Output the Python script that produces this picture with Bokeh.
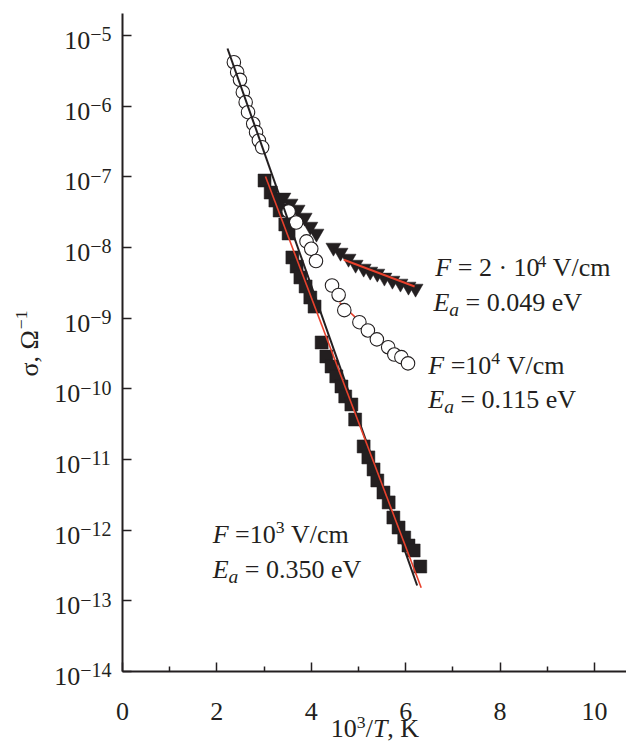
import math
from bokeh.plotting import figure
from bokeh.models import Range1d, FixedTicker, Label, CustomJSTickFormatter
from bokeh.embed import file_html
from bokeh.resources import INLINE

FONT = "Liberation Serif"
INK = "#231f20"
RED = "#e8412c"

# ---- data ----
# F = 10^4 V/cm (open circles)
circ_x = [2.36, 2.43, 2.49, 2.55, 2.61, 2.66, 2.77, 2.83, 2.89, 2.96,
          3.52, 3.68, 3.90, 4.00, 4.10, 4.44, 4.58, 4.70, 5.02, 5.20,
          5.39, 5.63, 5.76, 5.91, 6.05]
circ_y = [4.19e-6, 3.03e-6, 2.36e-6, 1.58e-6, 1.14e-6, 8.22e-7, 5.64e-7, 4.29e-7, 3.27e-7, 2.62e-7,
          3.24e-8, 2.26e-8, 1.22e-8, 9.6e-9, 6.44e-9, 2.90e-9, 2.13e-9, 1.30e-9, 8.77e-10, 6.70e-10,
          5.02e-10, 3.88e-10, 3.06e-10, 2.81e-10, 2.29e-10]
# F = 10^3 V/cm (filled squares)
sq_x = [3.01, 3.14, 3.24, 3.33, 3.45, 3.52, 3.60, 3.69, 3.77, 3.88, 3.98, 4.07,
        4.22, 4.32, 4.43, 4.53, 4.64, 4.72, 4.85, 4.93, 5.11, 5.21, 5.32, 5.40,
        5.53, 5.64, 5.74, 5.85, 5.97, 6.06, 6.17, 6.31]
sq_y = [8.87e-8, 6.0e-8, 4.62e-8, 3.34e-8, 2.12e-8, 1.58e-8, 7.23e-9, 5.38e-9, 3.77e-9, 2.81e-9, 1.96e-9, 1.46e-9,
        4.53e-10, 2.87e-10, 2.07e-10, 1.50e-10, 1.08e-10, 7.8e-11, 6.01e-11, 3.68e-11, 1.53e-11, 1.07e-11, 7.23e-12, 5.05e-12,
        3.41e-12, 2.47e-12, 1.51e-12, 1.09e-12, 7.87e-13, 6.07e-13, 5.16e-13, 3.06e-13]
# F = 2*10^4 V/cm (filled inverted triangles)
tri_x = [3.41, 3.56, 3.71, 3.86, 3.98, 4.11, 4.47, 4.62, 4.79, 4.94, 5.11, 5.25,
         5.40, 5.55, 5.72, 5.89, 6.06, 6.21]
tri_y = [5.11e-8, 4.20e-8, 3.45e-8, 2.66e-8, 1.98e-8, 1.58e-8, 1.00e-8, 8.49e-9, 6.98e-9, 5.74e-9, 5.05e-9, 4.58e-9,
         4.29e-9, 3.77e-9, 3.41e-9, 3.10e-9, 2.81e-9, 2.63e-9]

# fitted lines (end points)
black_x = [2.225, 6.244]
black_y = [6.55e-6, 1.65e-13]
red1_x = [3.03, 6.33]          # Ea = 0.350 eV
red1_y = [1.01e-7, 1.53e-13]
red2_x = [4.69, 6.19]          # Ea = 0.049 eV
red2_y = [6.70e-9, 2.81e-9]
red3_x = [4.60, 6.00]          # Ea = 0.115 eV
red3_y = [1.66e-9, 2.24e-10]

x_major = [0, 2, 4, 6, 8, 10]
x_minor = [1, 3, 5, 7, 9]
y_major = [1e-14, 1e-13, 1e-12, 1e-11, 1e-10, 1e-9, 1e-8, 1e-7, 1e-6, 1e-5]
x_axis_end = 10.68
y_axis_end = 2.05e-5

# the frame spans the whole canvas; the axes are pinned at x = 0 and y = 1e-14
p = figure(width=626, height=744, y_axis_type="log", title=None,
           x_range=Range1d(-2.585, x_axis_end), y_range=Range1d(9.27e-16, 3.13e-5),
           output_backend="svg", toolbar_location=None, min_border=0)
p.grid.visible = False
p.outline_line_color = None
p.background_fill_color = "white"
p.border_fill_color = "white"

xa = p.xaxis[0]
ya = p.yaxis[0]
xa.fixed_location = y_major[0]
ya.fixed_location = x_major[0]
xa.bounds = (x_major[0], x_axis_end)
ya.bounds = (y_major[0], y_axis_end)
xa.ticker = FixedTicker(ticks=x_major, minor_ticks=x_minor)
ya.ticker = FixedTicker(ticks=y_major, minor_ticks=[])
for ax in (xa, ya):
    ax.axis_line_width = 2
    ax.axis_line_color = INK
    ax.major_tick_line_color = INK
    ax.major_tick_line_width = 1.5
    ax.major_tick_in = 9
    ax.major_tick_out = 0
    ax.minor_tick_line_color = INK
    ax.minor_tick_line_width = 1.5
    ax.minor_tick_in = 5
    ax.minor_tick_out = 0
    ax.major_label_text_font = FONT
    ax.major_label_text_font_size = "26px"
    ax.major_label_text_color = INK
ya.minor_tick_line_color = None
xa.major_label_standoff = 31
ya.formatter = CustomJSTickFormatter(code="return ''")

# data marks
p.scatter(sq_x, sq_y, marker="square", size=13, fill_color=INK, line_color=INK, line_width=0.5)
p.scatter(tri_x, tri_y, marker="inverted_triangle", size=15, fill_color=INK, line_color=INK, line_width=0.5)
p.line(red3_x, red3_y, line_color=RED, line_width=1.5)
p.scatter(circ_x, circ_y, marker="circle", size=13.5, fill_color="white", line_color=INK, line_width=1.1)
p.line(black_x, black_y, line_color=INK, line_width=2)
p.line(red1_x, red1_y, line_color=RED, line_width=1.6)
p.line(red2_x, red2_y, line_color=RED, line_width=2)

# ---- rich text helper (Times metrics) ----
REG = {' ': 0.25, '=': 0.564, '\u00b7': 0.25, '.': 0.25, '/': 0.278, 'V': 0.722, 'c': 0.444,
       'm': 0.778, 'e': 0.444, 'K': 0.722, ',': 0.25, '\u03c3': 0.55, '\u03a9': 0.768, '\u2212': 0.564}
ITA = {'F': 0.611, 'E': 0.611, 'a': 0.5, 'T': 0.556}
BASE_FIX = 0.31   # compensates the renderer's drop of alphabetic-baseline labels (in em)


def text_width(t, italic):
    table = ITA if italic else REG
    return sum(0.5 if ch.isdigit() else table.get(ch, 0.5) for ch in t)


def rich(x, y, pieces, fs=26, angle=0.0, align="left", dx=0.0, dy=0.0):
    widths = [text_width(t, it) * fs * sc for t, it, sc, _ in pieces]
    total = sum(widths)
    adv = {"left": 0.0, "right": -total, "center": -total / 2}[align]
    for (t, italic, scale, rise), w in zip(pieces, widths):
        size = fs * scale
        lead = (len(t) - len(t.lstrip(" "))) * 0.25 * size
        s = t.strip(" ")
        a = adv + lead
        r = rise + BASE_FIX * size
        if angle == 0:
            xo, yo = dx + a, dy + r
        else:
            xo, yo = dx - r, dy + a
        p.add_layout(Label(x=x, y=y, x_offset=xo, y_offset=yo, text=s, angle=angle,
                           text_font=FONT, text_font_size=f"{size:.1f}px",
                           text_font_style="italic" if italic else "normal",
                           text_color=INK, text_align="left", text_baseline="alphabetic"))
        adv += w


SUP = 0.68
SUB = 0.75
rich(6.63, 4.02e-9, [("F", True, 1, 0), (" = 2 \u00b7 10", False, 1, 0), ("4", False, SUP, 9), (" V/cm", False, 1, 0)])
rich(6.59, 1.29e-9, [("E", True, 1, 0), ("a", True, SUB, -5), (" = 0.049 eV", False, 1, 0)])
rich(6.48, 1.65e-10, [("F", True, 1, 0), (" =10", False, 1, 0), ("4", False, SUP, 9), (" V/cm", False, 1, 0)])
rich(6.48, 5.44e-11, [("E", True, 1, 0), ("a", True, SUB, -5), (" = 0.115 eV", False, 1, 0)])
rich(1.91, 6.70e-13, [("F", True, 1, 0), (" =10", False, 1, 0), ("3", False, SUP, 9), (" V/cm", False, 1, 0)])
rich(1.91, 2.14e-13, [("E", True, 1, 0), ("a", True, SUB, -5), (" = 0.350 eV", False, 1, 0)])

# y tick labels 10^n
for v in y_major:
    e = int(round(math.log10(v)))
    expo = ("\u2212" if e < 0 else "") + str(abs(e))
    rich(x_major[0], v, [("10", False, 1, 0), (expo, False, 0.77, 8)], align="right", dx=-11, dy=-13)

# axis titles
rich(5.35, y_major[0], [("10", False, 1, 0), ("3", False, SUP, 9), ("/", False, 1, 0),
                        ("T", True, 1, 0), (", K", False, 1, 0)], align="center", dy=-65)
rich(x_major[0], 4.4e-10, [("\u03c3, \u03a9", False, 1, 0), ("\u22121", False, SUP, 11)],
     angle=math.pi / 2, align="center", dx=-85)

open("out.html", "w").write(file_html(p, INLINE))
